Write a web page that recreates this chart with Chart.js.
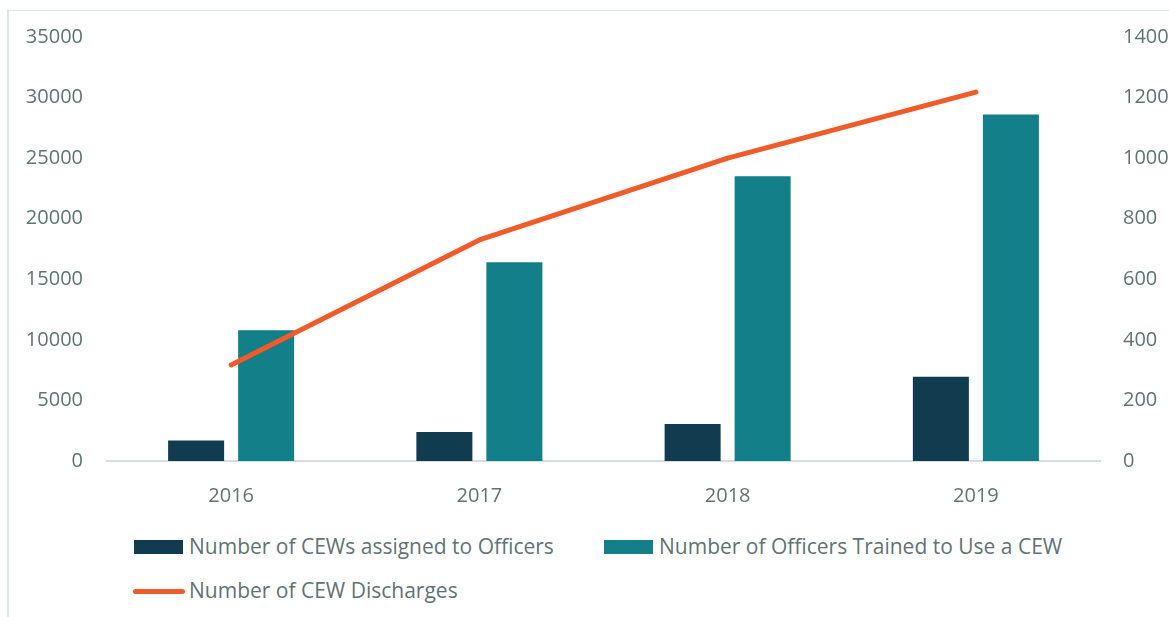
<!DOCTYPE html>
<html>
<head>
<meta charset="utf-8">
<script src="https://cdn.jsdelivr.net/npm/chart.js@4.4.0/dist/chart.umd.min.js"></script>
<style>
  html, body { margin: 0; padding: 0; background: #fff; }
  body { width: 1169px; height: 617px; position: relative; overflow: hidden; font-family: "Open Sans", sans-serif; }
  #frame { position: absolute; left: 7px; top: 10px; right: 0; bottom: 0; border-left: 2px solid #DCE3E3; border-top: 1px solid #DCE3E3; }
  #wrap { position: absolute; left: 0; top: 0; width: 1169px; height: 520px; }
  .leg { position: absolute; color: #5F7474; font-size: 21px; line-height: 22px; white-space: nowrap; }
  .sw { position: absolute; }
</style>
</head>
<body>
<div id="frame"></div>
<div id="wrap"><canvas id="c" width="1169" height="520"></canvas></div>
<div id="legend"></div>
<script>
const categories = ["2016", "2017", "2018", "2019"];
const cewsAssigned = [1700, 2400, 3050, 6950];
const officersTrained = [10800, 16400, 23500, 28600];
const discharges = [317, 730, 1000, 1218];
const leftTicks = [0, 5000, 10000, 15000, 20000, 25000, 30000, 35000];
const rightTicks = [0, 200, 400, 600, 800, 1000, 1200, 1400];
const seriesNames = ["Number of CEWs assigned to Officers", "Number of Officers Trained to Use a CEW", "Number of CEW Discharges"];

const NAVY = "#113B4E", TEAL = "#127F89", ORANGE = "#F15A29", TXT = "#5F7474";

const chart = new Chart(document.getElementById("c"), {
  data: {
    labels: categories,
    datasets: [
      { type: "bar", label: seriesNames[0], data: cewsAssigned, backgroundColor: NAVY, yAxisID: "y", order: 1,
        categoryPercentage: 0.564, barPercentage: 0.8 },
      { type: "bar", label: seriesNames[1], data: officersTrained, backgroundColor: TEAL, yAxisID: "y", order: 1,
        categoryPercentage: 0.564, barPercentage: 0.8 },
      { type: "line", label: seriesNames[2], data: discharges, borderColor: ORANGE, backgroundColor: ORANGE,
        borderWidth: 5, borderCapStyle: "round", borderJoinStyle: "round", pointRadius: 0, tension: 0,
        yAxisID: "y1", order: 0 }
    ]
  },
  options: {
    responsive: false,
    animation: false,
    layout: { padding: { top: 37, left: 0, right: 0, bottom: 0 } },
    plugins: { legend: { display: false }, tooltip: { enabled: false } },
    scales: {
      x: {
        grid: { display: false, drawTicks: false },
        border: { display: true, color: "#D6DEE0", width: 2 },
        ticks: { color: TXT, font: { family: "Open Sans", size: 20 }, padding: 23 },
        afterFit: s => { s.height = 59; }
      },
      y: {
        position: "left", min: 0, max: 35000,
        afterBuildTicks: s => { s.ticks = leftTicks.map(v => ({ value: v })); },
        grid: { display: false, drawTicks: false },
        border: { display: false },
        ticks: { color: TXT, font: { family: "Open Sans", size: 20 }, padding: 24, callback: v => String(v) },
        afterFit: s => { s.width = 107; }
      },
      y1: {
        position: "right", min: 0, max: 1400,
        afterBuildTicks: s => { s.ticks = rightTicks.map(v => ({ value: v })); },
        grid: { display: false, drawTicks: false },
        border: { display: false },
        ticks: { color: TXT, font: { family: "Open Sans", size: 20 }, padding: 23, callback: v => String(v) },
        afterFit: s => { s.width = 69; }
      }
    }
  }
});

// HTML legend
const legend = document.getElementById("legend");
const items = [
  { name: seriesNames[0], kind: "box", color: NAVY, x: 134, y: 547 },
  { name: seriesNames[1], kind: "box", color: TEAL, x: 604, y: 547 },
  { name: seriesNames[2], kind: "line", color: ORANGE, x: 134, y: 591 }
];
items.forEach(it => {
  const sw = document.createElement("div");
  sw.className = "sw";
  if (it.kind === "box") {
    Object.assign(sw.style, { left: it.x + "px", top: (it.y - 7) + "px", width: "49px", height: "14px", background: it.color });
  } else {
    Object.assign(sw.style, { left: (it.x - 1) + "px", top: (it.y - 2.5) + "px", width: "52px", height: "5px", background: it.color, borderRadius: "3px" });
  }
  legend.appendChild(sw);
  const t = document.createElement("div");
  t.className = "leg";
  t.textContent = it.name;
  Object.assign(t.style, { left: (it.x + 55) + "px", top: (it.y - 12) + "px" });
  legend.appendChild(t);
});
</script>
</body>
</html>
